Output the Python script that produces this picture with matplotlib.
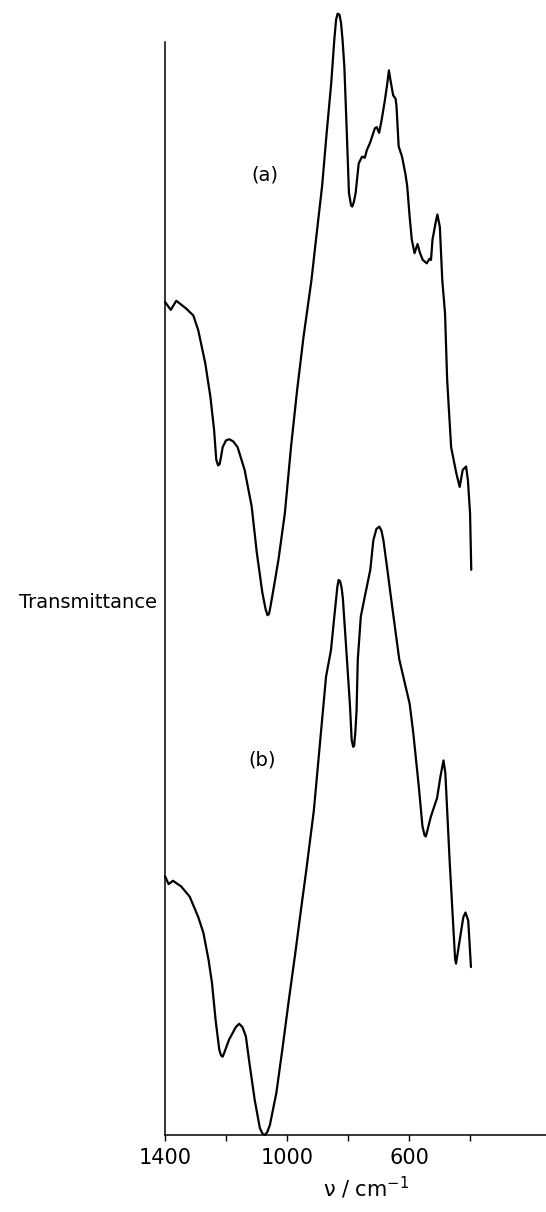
import numpy as np
import matplotlib
matplotlib.use("Agg")
import matplotlib.pyplot as plt

# Spectrum (a): wavenumber (cm-1) and transmittance (arbitrary units)
nu_a = [1400, 1381, 1363, 1330, 1307, 1291, 1268, 1251, 1239, 1232, 1226, 1221,
        1216, 1211, 1200, 1189, 1176, 1162, 1139, 1116, 1099, 1081, 1070, 1064,
        1059, 1054, 1043, 1028, 1007, 987, 967, 946, 920, 905, 885, 870, 855,
        845, 839, 834, 828, 823, 818, 812, 804, 797, 790, 786, 781, 775, 765,
        754, 745, 738, 728, 712, 706, 698, 690, 679, 671, 666, 660, 652, 644,
        641, 634, 623, 612, 606, 598, 591, 582, 572, 564, 555, 542, 533, 528,
        523, 512, 507, 499, 491, 482, 475, 462, 445, 434, 424, 413, 407, 400,
        396]
tr_a = [73.4, 72.7, 73.5, 72.8, 72.2, 70.9, 68.0, 65.0, 62.1, 59.5, 59.0, 59.1,
        59.8, 60.6, 61.2, 61.3, 61.1, 60.6, 58.6, 55.4, 51.3, 47.8, 46.3, 45.8,
        45.9, 46.6, 48.3, 50.7, 54.8, 60.6, 65.6, 70.3, 75.3, 78.9, 83.6, 88.3,
        92.7, 96.5, 98.3, 98.8, 98.7, 98.0, 96.5, 94.1, 88.3, 83.0, 81.9, 81.8,
        82.2, 83.0, 85.6, 86.2, 86.1, 86.8, 87.4, 88.7, 88.8, 88.3, 89.4, 91.2,
        92.7, 93.8, 92.8, 91.6, 91.3, 90.6, 87.1, 86.2, 84.7, 83.6, 80.9, 78.9,
        77.7, 78.5, 77.7, 77.1, 76.8, 77.2, 77.1, 78.9, 80.5, 81.1, 80.0, 75.3,
        72.4, 66.5, 60.6, 58.3, 57.1, 58.6, 58.9, 57.7, 54.8, 49.8]

# Spectrum (b)
nu_b = [1400, 1388, 1374, 1347, 1319, 1291, 1274, 1257, 1246, 1234, 1222, 1216,
        1211, 1205, 1190, 1168, 1157, 1146, 1135, 1123, 1106, 1089, 1080, 1072,
        1064, 1056, 1035, 1014, 994, 973, 953, 937, 912, 887, 872, 856, 846,
        835, 831, 826, 821, 817, 807, 794, 788, 783, 780, 776, 772, 768, 758,
        743, 727, 717, 707, 697, 690, 684, 671, 654, 632, 598, 586, 568, 556,
        549, 545, 541, 529, 518, 508, 497, 487, 481, 467, 455, 449, 446, 443,
        432, 422, 415, 406, 397]
tr_b = [22.8, 22.1, 22.4, 21.9, 21.0, 19.2, 17.8, 15.4, 13.4, 10.1, 7.5, 7.0,
        6.9, 7.3, 8.4, 9.5, 9.8, 9.5, 8.7, 6.3, 3.1, 0.6, 0.1, 0.0, 0.3, 0.9,
        3.7, 7.8, 11.9, 16.0, 20.1, 23.3, 28.6, 36.0, 40.4, 42.7, 45.4, 48.3,
        48.9, 48.8, 48.2, 47.3, 43.3, 38.0, 34.8, 34.2, 34.3, 35.5, 37.4, 41.9,
        45.7, 47.7, 49.8, 52.4, 53.4, 53.6, 53.2, 52.4, 49.8, 46.3, 41.9, 38.0,
        35.4, 30.7, 27.2, 26.4, 26.3, 26.7, 28.0, 28.9, 29.7, 31.6, 33.0, 31.9,
        24.2, 18.4, 15.5, 15.1, 15.6, 17.5, 19.2, 19.6, 18.9, 14.8]

tick_pos = [1400, 1200, 1000, 800, 600, 400]
tick_txt = ["1400", "", "1000", "", "600", ""]

fig = plt.figure(figsize=(5.46, 12.12), dpi=100)
ax = fig.add_axes([165 / 546, 77 / 1212, 381 / 546, 1135 / 1212])

for nu, tr in [(nu_a, tr_a), (nu_b, tr_b)]:
    ax.plot(nu, tr, color="black", lw=1.6, clip_on=False,
            solid_joinstyle="round", solid_capstyle="round")

ax.set_xlim(1400, 151)
ax.set_ylim(0, 100)

ax.spines["top"].set_visible(False)
ax.spines["right"].set_visible(False)
ax.spines["left"].set_bounds(0, 96.3)
ax.spines["left"].set_linewidth(1.1)
ax.spines["bottom"].set_linewidth(1.1)

ax.set_xticks(tick_pos)
ax.set_xticklabels(tick_txt, fontsize=15)
ax.tick_params(axis="x", direction="out", length=4.5, width=1.0, pad=5)
ax.set_yticks([])

ax.text(1072, 84.6, "(a)", fontsize=14, ha="center", va="center")
ax.text(1082, 33.0, "(b)", fontsize=14, ha="center", va="center")

ax.set_ylabel("Transmittance", rotation=0, fontsize=14, ha="right", va="center")
ax.yaxis.set_label_coords(-8 / 381, 0.469)
ax.set_xlabel("ν / cm$^{-1}$", fontsize=15)
ax.xaxis.set_label_coords(0.527, -0.035)

fig.savefig("out.png", dpi=100)
